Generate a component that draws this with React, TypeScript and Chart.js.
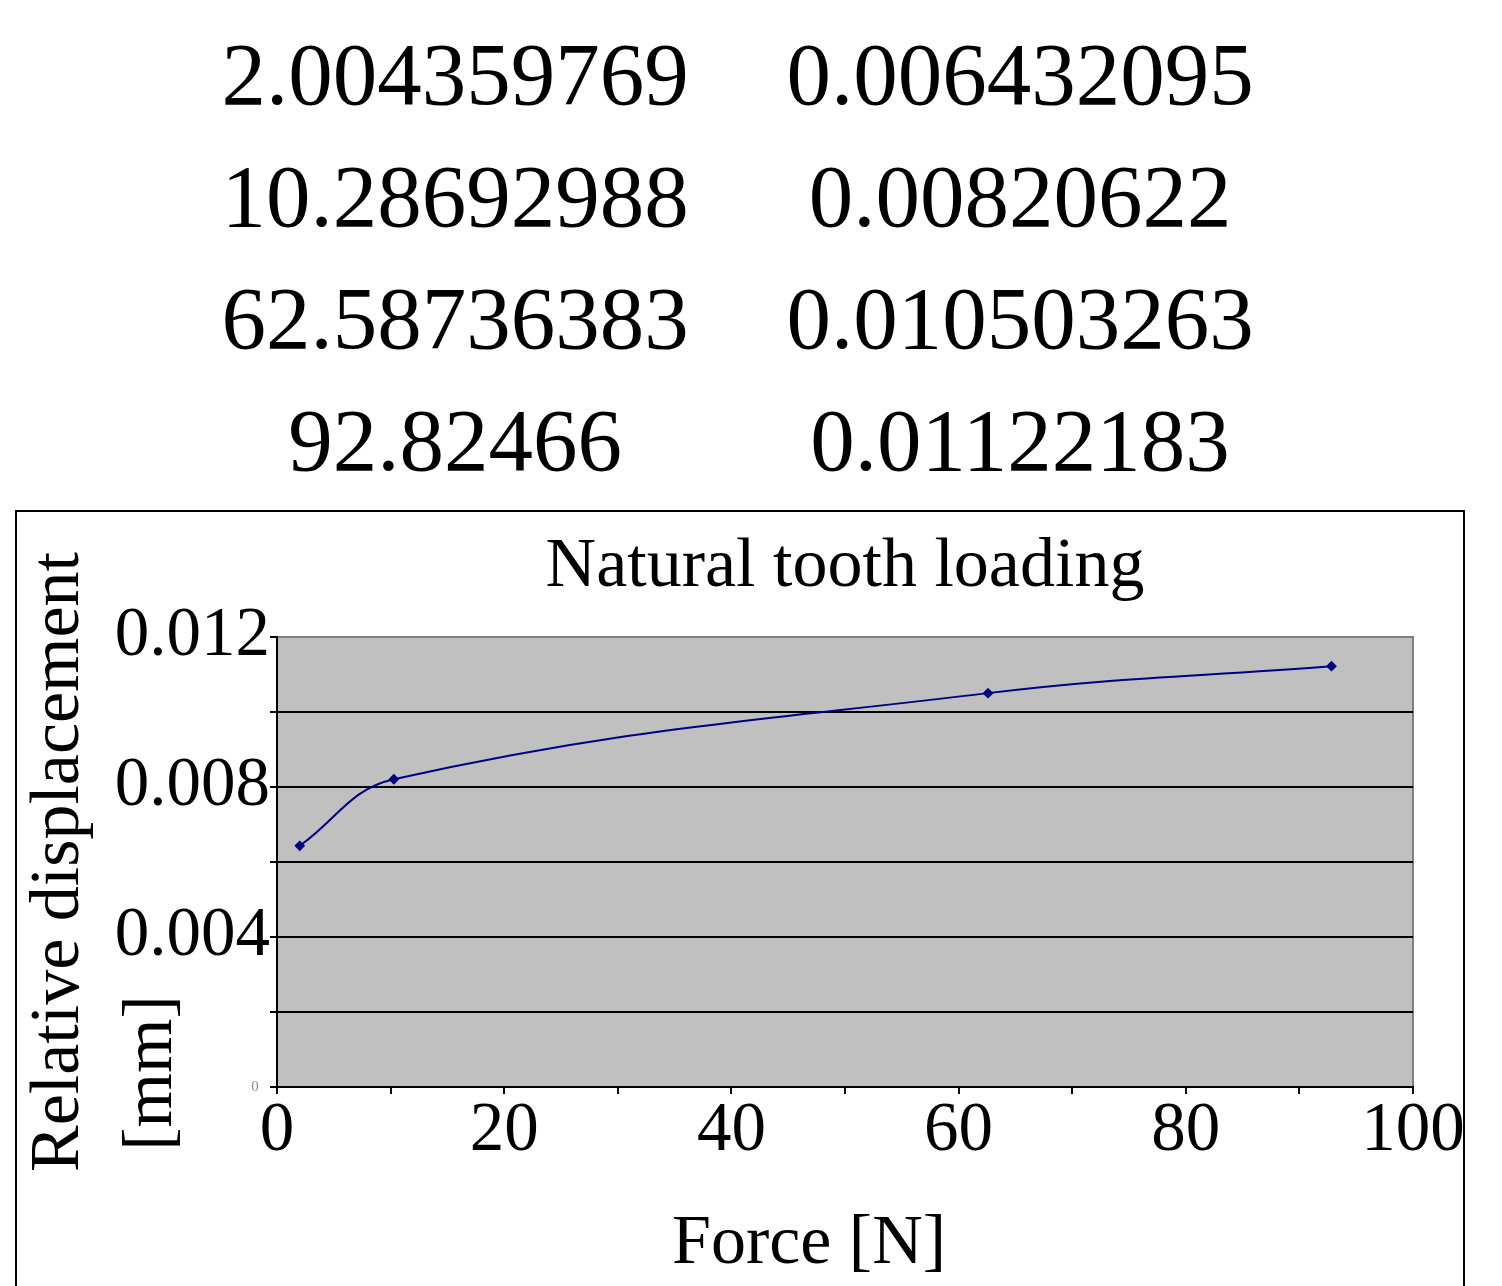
import React, { useEffect, useRef } from 'react';
import { Chart, registerables } from 'chart.js';

Chart.register(...registerables);

// --- data ---
const forceN = [2.004359769, 10.28692988, 62.58736383, 92.82466];
const displacementMm = [0.006432095, 0.00820622, 0.010503263, 0.01122183];
const forceText = ['2.004359769', '10.28692988', '62.58736383', '92.82466'];
const displacementText = ['0.006432095', '0.00820622', '0.010503263', '0.01122183'];
const chartTitle = 'Natural tooth loading';
const xTitle = 'Force [N]';
const yTitle = ['Relative displacement', '[mm]'];

const SERIF = '"Liberation Serif", "Times New Roman", serif';

// gray plot area + axis titles drawn by hand (the original has them off-centre)
const plotDecor = {
  id: 'plotDecor',
  beforeDraw(chart: any) {
    const { ctx, chartArea: a } = chart;
    ctx.save();
    ctx.fillStyle = '#c0c0c0';
    ctx.fillRect(a.left, a.top, a.right - a.left, a.bottom - a.top);
    ctx.strokeStyle = '#808080';
    ctx.lineWidth = 2;
    ctx.strokeRect(a.left, a.top, a.right - a.left, a.bottom - a.top);
    ctx.restore();
  },
  afterDraw(chart: any) {
    const { ctx, chartArea: a } = chart;
    ctx.save();
    ctx.fillStyle = '#000';
    ctx.font = `70px ${SERIF}`;
    ctx.textAlign = 'center';
    ctx.textBaseline = 'alphabetic';
    ctx.fillText(xTitle, (a.left + a.right) / 2 - 36, a.bottom + 176);

    ctx.translate(61, (a.top + a.bottom) / 2);
    ctx.rotate(-Math.PI / 2);
    ctx.fillText(yTitle[0], 0, 0);
    ctx.restore();

    ctx.save();
    ctx.fillStyle = '#000';
    ctx.font = `70px ${SERIF}`;
    ctx.textAlign = 'center';
    ctx.translate(154, a.bottom - 14);
    ctx.rotate(-Math.PI / 2);
    ctx.fillText(yTitle[1], 0, 0);
    ctx.restore();
  },
};

export default function App() {
  const canvasRef = useRef<HTMLCanvasElement>(null);

  useEffect(() => {
    const ctx = canvasRef.current?.getContext('2d');
    if (!ctx) return;

    const chart = new Chart(ctx, {
      type: 'line',
      data: {
        datasets: [{
          data: forceN.map((x, i) => ({ x, y: displacementMm[i] })),
          borderColor: '#000080',
          backgroundColor: '#000080',
          borderWidth: 2,
          tension: 0.4,
          fill: false,
          pointStyle: 'rectRot',
          pointRadius: 4,
          pointBackgroundColor: '#000080',
          pointBorderColor: '#000080',
        }],
      },
      options: {
        responsive: false,
        animation: false,
        devicePixelRatio: 1,
        layout: { padding: { left: 0, top: 0, right: 50, bottom: 0 } },
        plugins: {
          legend: { display: false },
          tooltip: { enabled: false },
          title: {
            display: true,
            text: chartTitle,
            color: '#000',
            fullSize: false,
            font: { family: SERIF, size: 70, weight: 'normal', lineHeight: 1.2 },
            padding: { top: 14, bottom: 27 },
          },
        },
        scales: {
          x: {
            type: 'linear',
            min: 0,
            max: 100,
            afterFit: (s: any) => {
              s.height = 205;
              s.paddingLeft = 0;
              s.paddingRight = 0;
            },
            border: { color: '#000', width: 2 },
            grid: { drawOnChartArea: false, drawTicks: true, tickLength: 7, tickColor: '#000', lineWidth: 2 },
            ticks: {
              stepSize: 10,
              autoSkip: false,
              maxRotation: 0,
              padding: 3,
              color: '#000',
              font: { family: SERIF, size: 69, lineHeight: 1 },
              callback: (v: any) => (Math.round(v) % 20 === 0 ? String(Math.round(v)) : ''),
            },
          },
          y: {
            type: 'linear',
            min: 0,
            max: 0.012,
            afterFit: (s: any) => { s.width = 260; },
            border: { color: '#000', width: 2 },
            grid: {
              color: (c: any) => (c.tick && c.tick.value > 0.0119 ? '#808080' : '#000'),
              tickColor: '#000',
              tickLength: 7,
              lineWidth: 2,
            },
            ticks: {
              stepSize: 0.002,
              autoSkip: false,
              padding: 0,
              color: (c: any) => (c.tick && Math.abs(c.tick.value) < 1e-9 ? '#a08888' : '#000'),
              font: (c: any) => ({
                family: SERIF,
                size: c.tick && Math.abs(c.tick.value) < 1e-9 ? 15 : 69,
                lineHeight: 1,
              }),
              callback: (v: any) => {
                const r = Math.round(v * 1000);
                if (r === 0) return '0   ';
                return r % 4 === 0 ? (r / 1000).toFixed(3) : '';
              },
            },
          },
        },
      },
      plugins: [plotDecor],
    });

    return () => chart.destroy();
  }, []);

  const cell: React.CSSProperties = {
    position: 'absolute',
    width: 600,
    textAlign: 'center',
    fontFamily: SERIF,
    fontSize: 89,
    lineHeight: '89px',
    color: '#000',
    whiteSpace: 'nowrap',
  };

  return (
    <div style={{ position: 'fixed', left: 0, top: 0, width: 1502, height: 1286, background: '#fff', overflow: 'hidden' }}>
      {forceText.map((t, i) => (
        <div key={'f' + i} style={{ ...cell, left: 455 - 300, top: 30 + i * 122 }}>{t}</div>
      ))}
      {displacementText.map((t, i) => (
        <div key={'d' + i} style={{ ...cell, left: 1020 - 300, top: 30 + i * 122 }}>{t}</div>
      ))}
      <div style={{ position: 'absolute', left: 15, top: 510, width: 1446, height: 900, border: '2px solid #000' }}>
        <canvas ref={canvasRef} width={1446} height={780} style={{ display: 'block' }} />
      </div>
    </div>
  );
}
